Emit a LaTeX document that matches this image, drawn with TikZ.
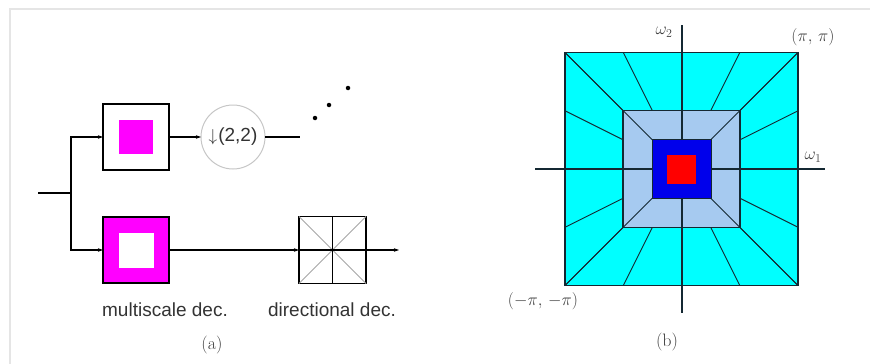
\documentclass[tikz,border=0pt]{standalone}
\usepackage{fontspec}
\setsansfont{Liberation Sans}
\usetikzlibrary{arrows.meta}
\definecolor{lightblu}{RGB}{166,202,240}
\definecolor{deepblu}{RGB}{0,0,235}
\definecolor{edge}{RGB}{20,40,50}
\definecolor{cyn}{RGB}{0,255,255}
\definecolor{mgt}{RGB}{255,0,255}
\definecolor{rd}{RGB}{255,0,0}
\begin{document}
\begin{tikzpicture}[x=1pt,y=-1pt,
  every node/.style={inner sep=0pt, outer sep=0pt},
  wire/.style={line width=1.1pt, black},
  arr/.style={wire, -{Stealth[length=5pt,width=3.5pt]}},
  boxn/.style={draw=black, line width=1.6pt, minimum size=66pt},
  sflab/.style={font=\sffamily\fontsize{19}{21}\selectfont, text=black!80},
  mlab/.style={font=\fontsize{18}{20}\selectfont, text=black!75},
  dot/.style={circle, fill=black, minimum size=4.5pt},
  bline/.style={line width=1.1pt, edge}]
\useasboundingbox (0,0) rectangle (870,364);
\draw[gray!20, line width=2pt] (10,364) -- (10,9) -- (870,9);
% ---------------- (a) ----------------
\node[boxn, fill=white] (lp) at (136,137) {};
\node[fill=mgt, minimum size=34pt] (lpin) at (lp.center) {};
\node[boxn, fill=mgt] (hp) at (136,250) {};
\node[fill=white, minimum size=35pt] (hpin) at (hp.center) {};
\node[circle, draw=gray!45, line width=1pt, minimum size=64pt] (ds) at (233,137) {};
\node[font=\sffamily\fontsize{19}{21}\selectfont, text=black!80] (dstxt) at (ds.center) {$\downarrow$\kern1pt(2,2)};
\node[draw=black, line width=1.5pt, minimum size=67pt] (dir) at (332.5,250) {};
\coordinate (in) at (38,193);
\coordinate (br) at (71,193);
\coordinate (topend) at (300,137);
\coordinate (out) at (399,250);
\draw[wire] (in) -- (br);
\draw[arr] (br) |- (lp.west);
\draw[arr] (br) |- (hp.west);
\draw[arr] (lp.east) -- (ds.west);
\draw[wire] (ds.east) -- (topend);
\draw[arr] (hp.east) -- (dir.west);
\draw[gray!70, line width=0.8pt] (dir.north west) -- (dir.south east);
\draw[gray!70, line width=0.8pt] (dir.south west) -- (dir.north east);
\draw[wire] (dir.north) -- (dir.south);
\draw[wire] (dir.west) -- (dir.east);
\draw[arr] (dir.east) -- (out);
\node[dot] (d1) at (315,118) {};
\node[dot] (d2) at (329,105) {};
\node[dot] (d3) at (348,88) {};
\node[sflab] (l1) at (165,310) {multiscale dec.};
\node[sflab] (l2) at (332,310) {directional dec.};
\node[mlab] (ca) at (212,345) {(a)};
% ---------------- (b) ----------------
\coordinate (xl) at (535,169);
\coordinate (xr) at (825,169);
\coordinate (yt) at (682,25);
\coordinate (yb) at (682,313);
\begin{scope}[shift={(681.5,169)}]
  \fill[cyn] (-116.5,-116.5) rectangle (116.5,116.5);
  \fill[lightblu] (-58.5,-58.5) rectangle (58.5,58.5);
  \foreach \r in {0,90,180,270}{
    \begin{scope}[rotate=\r]
      \foreach \t in {-1,-0.5,0.5,1}
        \draw[bline, line width=0.9pt] (58.5*\t,-58.5) -- (116.5*\t,-116.5);
      \draw[bline, line width=0.9pt] (-29.5,-29.5) -- (-58.5,-58.5);
    \end{scope}}
  \draw[bline, line width=1.3pt] (-116.5,-116.5) rectangle (116.5,116.5);
  \draw[bline] (-58.5,-58.5) rectangle (58.5,58.5);
\end{scope}
\draw[bline, line width=1.3pt] (xl) -- (xr);
\draw[bline, line width=1.3pt] (yt) -- (yb);
\node[fill=deepblu, draw=edge, line width=1pt, minimum size=59pt] (hb) at (681.5,169) {};
\node[fill=rd, minimum size=29pt] (lb) at (681.5,169) {};
\node[mlab] (w2) at (664,32) {$\omega_2$};
\node[mlab] (w1) at (813,157) {$\omega_1$};
\node[mlab] (pp) at (813,37) {$(\pi,\,\pi)$};
\node[mlab] (mm) at (543,301) {$(-\pi,\,-\pi)$};
\node[mlab] (cb) at (667,342) {(b)};
\end{tikzpicture}
\end{document}
